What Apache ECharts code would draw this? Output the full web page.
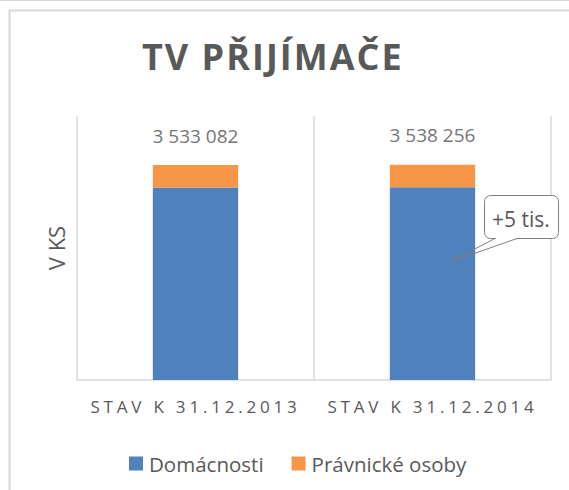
<!DOCTYPE html>
<html><head><meta charset="utf-8">
<script src="https://cdn.jsdelivr.net/npm/echarts@6/dist/echarts.min.js"></script>
<style>html,body{margin:0;padding:0;background:#fff}#c{width:569px;height:490px}</style>
</head><body><div id="c"></div>
<script>
const categories = ['Stav k 31.12.2013', 'Stav k 31.12.2014'];
const domacnosti = [3163000, 3168000];
const pravnickeOsoby = [370082, 370256];
const totalLabels = ['3 533 082', '3 538 256'];
const seriesNames = ['Domácnosti', 'Právnické osoby'];
const calloutText = '+5 tis.';

const FONT = '"Open Sans", sans-serif';
const dom = document.getElementById('c');
const chart = echarts.init(dom, null, {renderer: 'svg'});
const option = {
  animation: false,
  title: {
    text: 'TV PŘIJÍMAČE', left: 142, top: 38, padding: 0,
    textStyle: {fontFamily: FONT, fontSize: 36, fontWeight: 'bold', color: '#595959'}
  },
  legend: {
    left: 129, top: 453, padding: 0, itemWidth: 14, itemHeight: 14, itemGap: 28, icon: 'rect',
    textStyle: {fontFamily: FONT, fontSize: 20.5, color: '#595959', padding: [0, 0, 0, 1]},
    data: seriesNames
  },
  grid: {left: 77, right: 18, top: 116, bottom: 110},
  xAxis: {
    type: 'category', data: categories,
    axisLine: {lineStyle: {color: '#d9d9d9', width: 1.5}},
    axisTick: {show: false},
    splitLine: {show: true, lineStyle: {color: '#d9d9d9', width: 1.5}},
    axisLabel: {fontFamily: FONT, fontSize: 17, color: '#595959', margin: 18,
      formatter: v => v.toUpperCase()}
  },
  yAxis: {
    type: 'value', min: 0, max: 4340000,
    name: 'V KS', nameLocation: 'middle', nameGap: 10,
    nameTextStyle: {fontFamily: FONT, fontSize: 22, color: '#595959'},
    axisLine: {show: false}, axisTick: {show: false}, axisLabel: {show: false},
    splitLine: {show: false}
  },
  series: [
    {name: seriesNames[0], type: 'bar', stack: 't', data: domacnosti, barWidth: '36%',
      itemStyle: {color: '#4f81bd'}},
    {name: seriesNames[1], type: 'bar', stack: 't', data: pravnickeOsoby, barWidth: '36%',
      itemStyle: {color: '#f79646'},
      label: {show: true, position: 'top', distance: 20, fontFamily: FONT, fontSize: 19,
        color: '#757575', formatter: p => totalLabels[p.dataIndex]}}
  ],
  graphic: [
    {type: 'line', shape: {x1: 0, y1: 0.5, x2: 569, y2: 0.5}, style: {stroke: '#d9d9d9', lineWidth: 1}, silent: true},
    {type: 'rect', shape: {x: 9.5, y: 10.5, width: 620, height: 600}, style: {fill: null, stroke: '#d9d9d9', lineWidth: 2}, silent: true},
    {type: 'rect', shape: {x: 484.5, y: 195.5, width: 74, height: 43, r: 6}, style: {fill: '#fff', stroke: '#7f7f7f', lineWidth: 1}, z: 100},
    {type: 'line', shape: {x1: 496, y1: 238.5, x2: 516, y2: 238.5}, style: {stroke: '#fff', lineWidth: 2}, z: 101},
    {type: 'polyline', shape: {points: [[495, 238.5], [450, 262], [517, 238.5]]}, style: {fill: null, stroke: '#7f7f7f', lineWidth: 1}, z: 101},
    {type: 'text', x: 521, y: 219, style: {text: calloutText, fontFamily: FONT, fontSize: 21, fill: '#595959', textAlign: 'center', textVerticalAlign: 'middle'}, z: 102}
  ]
};
chart.setOption(option);
function applySpacing() {
  dom.querySelectorAll('text').forEach(t => {
    const s = t.textContent;
    if (s.startsWith('STAV')) t.setAttribute('letter-spacing', '3.8');
    if (s === 'TV PŘIJÍMAČE') t.setAttribute('letter-spacing', '2');
  });
}
applySpacing();
chart.on('finished', applySpacing);
</script></body></html>
